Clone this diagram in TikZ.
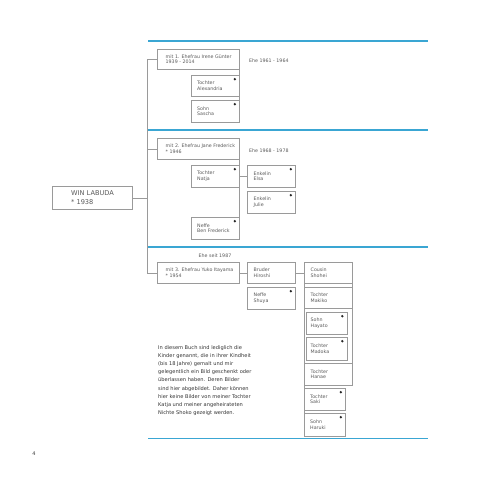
\documentclass[tikz,border=0pt]{standalone}
\usepackage{fontspec}
\setmainfont{DejaVu Sans}
\usetikzlibrary{shadows}
\definecolor{bluel}{HTML}{3AA6D3}
\definecolor{btxt}{HTML}{5A5A5A}
\definecolor{ptxt}{HTML}{333333}
\definecolor{bline}{HTML}{9A9A9A}
\definecolor{bshad}{HTML}{B0B0B0}
\tikzset{
  famb/.style={draw=bline, line width=0.45pt, fill=white, inner sep=0pt, anchor=north west,
    drop shadow={shadow xshift=0.75pt, shadow yshift=-0.75pt, fill=bshad, opacity=1}},
  btext/.style={anchor=west, inner sep=0pt, align=left, font=\fontsize{4.75}{5.8}\selectfont, text=btxt},
  conn/.style={draw=bline, line width=0.45pt},
  blueline/.style={draw=bluel, line width=1.1pt},
  dotm/.style={fill=black!85},
  ehetxt/.style={inner sep=0pt, font=\fontsize{4.75}{5.8}\selectfont, text=btxt},
}
\newcommand\mkbox[7]{%
  \node[famb, minimum width=#4pt, minimum height=#5pt] (#1) at (#2,#3) {};
  \node[btext] (#1-t) at ([xshift=#6pt]#1.west) {#7};}
\newcommand\mdot[1]{\fill[dotm] ([xshift=-4.6pt,yshift=-4.2pt]#1.north east) circle[radius=1.35pt];}
\begin{document}
\begin{tikzpicture}[x=1pt,y=-1pt]
\useasboundingbox (0,0) rectangle (480,480);
% blue rules
\draw[blueline] (148,41) -- (428,41);
\draw[blueline] (148,130) -- (428,130);
\draw[blueline] (148,247) -- (428,247);
\draw[blueline] (148,438.5) -- (428,438.5);
% main person
\node[famb, minimum width=80pt, minimum height=23pt] (win) at (52,186) {};
\node[anchor=west, inner sep=0pt, align=left, font=\fontsize{6.6}{8.4}\selectfont, text=btxt] (win-t) at ([xshift=19pt]win.west) {WIN LABUDA\\* 1938};
% first marriage
\mkbox{irene}{157}{49}{82}{20}{8.5}{mit 1. Ehefrau Irene Günter\\1939 - 2014}
\mkbox{alex}{191}{75}{48}{21}{6}{Tochter\\Alexandria}
\mkbox{sascha}{191}{100}{48}{22}{6}{Sohn\\Sascha}
% second marriage
\mkbox{jane}{157}{138}{82}{21}{8.5}{mit 2. Ehefrau Jane Frederick\\* 1946}
\mkbox{natja}{191}{165}{48}{22}{6}{Tochter\\Natja}
\mkbox{elsa}{247}{165}{48}{22}{6.5}{Enkelin\\Elsa}
\mkbox{julie}{247}{191}{48}{22}{6.5}{Enkelin\\Julie}
\mkbox{ben}{191}{217}{48}{22}{6}{Neffe\\Ben Frederick}
% third marriage
\mkbox{yuko}{157}{262}{82}{21}{8.5}{mit 3. Ehefrau Yuko Itayama\\* 1954}
\mkbox{bruder}{247}{262}{48}{21}{6.5}{Bruder\\Hiroshi}
\mkbox{cousin}{304}{262}{48}{21}{6.5}{Cousin\\Shohei}
\mkbox{shuya}{247}{287}{48}{22}{6.5}{Neffe\\Shuya}
\node[famb, minimum width=48pt, minimum height=98pt] (makgrp) at (304,287) {};
\mkbox{makiko}{304}{287}{48}{21}{6.5}{Tochter\\Makiko}
\mkbox{hayato}{305.5}{312}{41}{22}{5}{Sohn\\Hayato}
\mkbox{madoka}{305.5}{337}{41}{23}{5}{Tochter\\Madoka}
\mkbox{hanae}{304}{363}{48}{22}{6.5}{Tochter\\Hanae}
\mkbox{saki}{304}{388}{41}{22}{6}{Tochter\\Saki}
\mkbox{haruki}{304}{413}{41}{23}{6}{Sohn\\Haruki}
% connectors
\coordinate (tr) at (147,0);
\draw[conn] (irene.west) -- (irene.west -| tr) -- (yuko.west -| tr) -- (yuko.west);
\draw[conn] (jane.west) -- (jane.west -| tr);
\draw[conn] (win.east) -- (win.east -| tr);
\draw[conn] (irene.south east) -- (sascha.north east);
\draw[conn] (jane.south east) -- (ben.north east);
\draw[conn] (natja.east) -- (elsa.west);
\draw[conn] (yuko.east) -- (bruder.west);
\draw[conn] (bruder.east) -- (cousin.west);
\draw[conn] (cousin.south east) -- (makgrp.north east);
\draw[conn] (cousin.south west) -- (haruki.north west);
% dots
\mdot{alex}\mdot{sascha}\mdot{natja}\mdot{elsa}\mdot{julie}\mdot{ben}
\mdot{shuya}\mdot{hayato}\mdot{madoka}\mdot{saki}\mdot{haruki}
% labels
\node[ehetxt, anchor=west] (ehe1) at (249,61) {Ehe 1961 - 1964};
\node[ehetxt, anchor=west] (ehe2) at (249,151) {Ehe 1968 - 1978};
\node[ehetxt] (ehe3) at (215,256) {Ehe seit 1987};
\node[anchor=north west, inner sep=0pt, align=left, font=\fontsize{5.1}{8.1}\selectfont, text=ptxt] (para) at (158,345.5) {In diesem Buch sind lediglich die\\Kinder genannt, die in ihrer Kindheit\\(bis 18 Jahre) gemalt und mir\\gelegentlich ein Bild geschenkt oder\\überlassen haben. Deren Bilder\\sind hier abgebildet. Daher können\\hier keine Bilder von meiner Tochter\\Katja und meiner angeheirateten\\Nichte Shoko gezeigt werden.};
\node[inner sep=0pt, font=\fontsize{5}{6}\selectfont, text=ptxt] (pg) at (34,454) {4};
\end{tikzpicture}
\end{document}
